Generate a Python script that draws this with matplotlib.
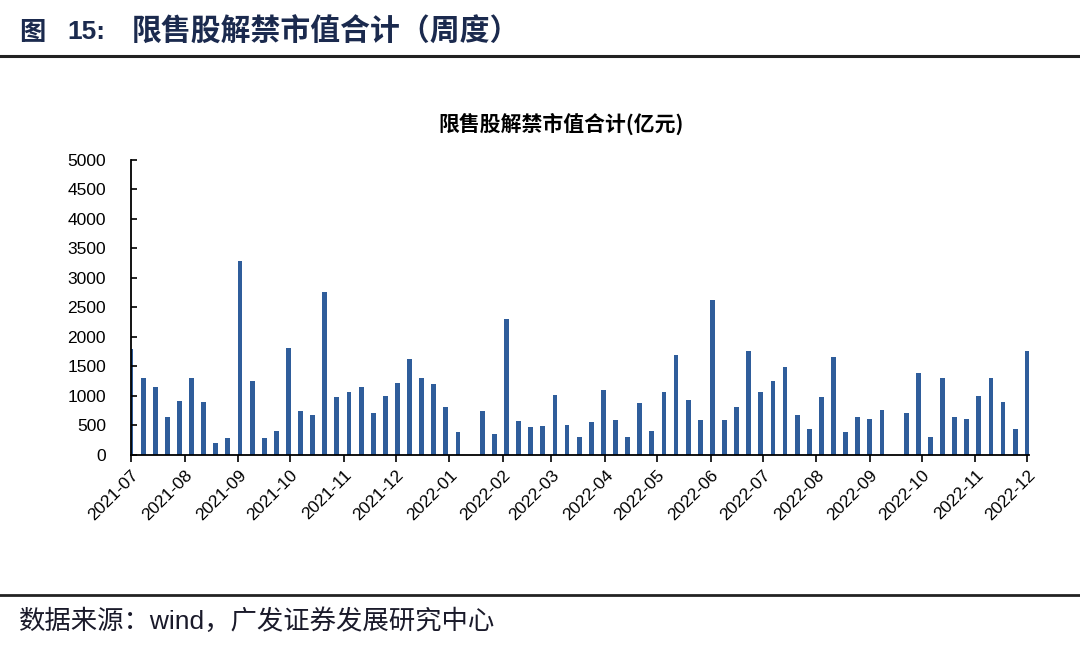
import matplotlib
matplotlib.use('Agg')
import matplotlib.pyplot as plt
import matplotlib.dates as mdates
import pandas as pd

plt.rcParams['font.family'] = ['Liberation Sans', 'Noto Sans CJK SC', 'DejaVu Sans']

# weekly unlock market value (100m yuan), one bar per week starting 2021-07-01
start_date = '2021-07-01'
values = [1790, 1310, 1150, 645, 915, 1300, 905, 195, 290, 3280,
          1255, 290, 410, 1810, 740, 672, 2765, 977, 1062, 1150,
          712, 995, 1220, 1633, 1310, 1210, 820, 390, 0, 740,
          362, 2300, 577, 480, 497, 1017, 508, 305, 565, 1107,
          593, 300, 887, 407, 1062, 1700, 927, 593, 2622, 593,
          820, 1763, 1073, 1255, 1486, 685, 446, 977, 1666, 390,
          644, 610, 757, 0, 717, 1395, 300, 1310, 644, 610,
          1005, 1310, 904, 436, 1763]

weeks = pd.date_range(start_date, periods=len(values), freq='7D')

BAR = '#2f5d9b'
NAVY = '#1b2a4e'

fig = plt.figure(figsize=(10.8, 6.45), dpi=100)
fig.patch.set_facecolor('white')

# header
fig.text(0.018, 0.95, '图', fontsize=19, fontweight='bold', color=NAVY,
         family=['Noto Sans CJK SC'], va='center')
fig.text(0.062, 0.95, '15:', fontsize=19, fontweight='bold', color=NAVY,
         family=['Liberation Sans'], va='center')
fig.text(0.122, 0.95, '限售股解禁市值合计（周度）', fontsize=21.5, fontweight='bold',
         color=NAVY, family=['Noto Sans CJK SC'], va='center')
fig.add_artist(plt.Line2D([0, 1], [0.913, 0.913], color='#222222', lw=2.2))

# footer
fig.add_artist(plt.Line2D([0, 1], [0.077, 0.077], color='#222222', lw=2.0))
fig.text(0.018, 0.037, '数据来源：wind，广发证券发展研究中心', fontsize=19,
         color='#1a1a2a', va='center')

ax = fig.add_axes([0.1213, 0.2946, 0.8315, 0.4574])
ax.bar(weeks, values, width=2.8, color=BAR, align='center')

ax.set_ylim(0, 5000)
ax.set_yticks(range(0, 5001, 500))
ax.set_xlim(pd.Timestamp('2021-07-01'), pd.Timestamp('2022-12-02'))
ax.xaxis.set_major_locator(mdates.MonthLocator())
ax.xaxis.set_major_formatter(mdates.DateFormatter('%Y-%m'))

for s in ['top', 'right']:
    ax.spines[s].set_visible(False)
for s in ['left', 'bottom']:
    ax.spines[s].set_linewidth(1.3)
    ax.spines[s].set_color('black')

ax.tick_params(axis='y', direction='in', length=4, width=1.2, labelsize=12.5, pad=18)
ax.tick_params(axis='x', direction='out', length=5, width=1.2, labelsize=12.5, pad=4)
for lab in ax.get_xticklabels():
    lab.set_rotation(45)
    lab.set_ha('right')
    lab.set_va('top')
    lab.set_rotation_mode('anchor')

ax.set_title('限售股解禁市值合计(亿元)', fontsize=15, fontweight='bold',
             family=['Noto Sans CJK SC'], pad=21, x=0.479)

fig.savefig('out.png', dpi=100, facecolor='white')
